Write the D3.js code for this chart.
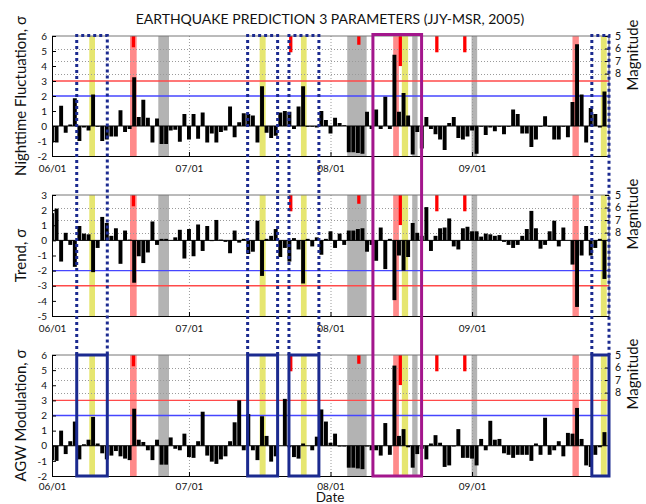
<!DOCTYPE html>
<html>
<head>
<meta charset="utf-8">
<script src="https://cdn.jsdelivr.net/npm/d3@7"></script>
<style>
  body { margin: 0; background: #fff; }
  svg { display: block; }
  text { font-family: Lato, "Open Sans", sans-serif; fill: #111; }
</style>
</head>
<body>
<svg id="chart" width="646" height="504"></svg>
<script>
// ---- data -------------------------------------------------------------
const periodStart = "2005-06-01";
const periodEnd = "2005-10-01";

// daily values, 2005-06-01 .. 2005-09-30 (σ units)
const nightFluct = [
  -1.1, -1.1, 1.35, -0.45, 0.1, 1.85, -1.0, -0.1, -0.3, 2.1,
  -0.05, -1.0, -0.9, -0.7, -0.7, 1.05, -0.4, -0.2, 3.25, 0.6,
  1.75, 0.55, -1.1, 0.5, -1.2, -1.2, -0.3, -0.25, -1.05, 0.8,
  -0.9, 0.8, -0.85, 0.9, -1.1, -0.5, -1.1, -0.4, -0.3, 1.3,
  -0.75, 0.25, 0.85, 0.8, 0.7, -1.1, 2.65, -0.45, -0.8, -0.65,
  0.9, 1.0, 0.95, -0.2, 1.3, 2.65, -0.05, -0.05, -0.1, 1.0,
  0.4, -0.5, 0.55, 0.2, 0.05, -1.75, -1.75, -1.8, -1.85, 0.95,
  -0.2, 1.1, -0.2, 1.95, -0.2, 4.75, 0.95, 2.2, 0.7, -1.9,
  -0.4, -1.5, 0.6, -0.2, -0.55, -0.9, -1.6, 0.2, 0.6, -0.8,
  -0.9, -0.7, -0.3, -1.85, -0.05, -0.6, -0.1, -0.35, -0.05, -0.55,
  -0.05, 1.1, 0.8, -0.5, -0.5, -1.4, -0.9, -0.05, 0.65, -0.05,
  -0.9, -0.9, -0.05, -0.75, 1.6, 5.45, 2.1, -1.1, 1.2, 0.8,
  -0.1, 2.3
];
const trend = [
  1.8, 2.1, -1.4, 0.5, -0.3, -1.75, 0.95, 0.45, 0.4, -2.1,
  -0.5, 1.55, 1.15, 0.3, 0.8, -1.55, 0.65, 0.05, -2.8, -1.05,
  -1.5, -0.8, 1.25, -0.3, 0.1, 0.1, 0.0, 0.2, 0.7, -1.2,
  0.75, -1.05, 1.05, -0.7, 0.95, -0.05, 1.35, 0.05, -0.1, -0.85,
  0.65, -0.15, 0.1, -0.9, -0.75, 1.3, -2.35, 0.1, 0.3, 0.75,
  -1.1, -0.5, -1.4, 0.15, -0.6, -2.85, 0.1, -0.4, 0.2, -0.95,
  0.1, 0.6, -0.5, 0.45, -0.3, 0.65, 0.65, 0.75, 0.8, -0.75,
  -0.3, -1.35, 0.85, -1.9, 0.1, -3.95, -1.0, -2.0, -1.1, 1.15,
  0.5, 0.3, 2.2, -0.7, 0.3, 0.8, 0.85, 1.45, -0.4, -0.6,
  0.8, 0.9, 0.6, 0.6, 0.25, 0.45, 0.4, 0.3, 0.35, -0.1,
  -0.3, -0.5, -0.3, 0.3, 0.75, 1.95, 0.8, -0.55, -0.3, 0.6,
  1.3, -0.4, 0.85, 0.0, -1.6, -4.4, -1.0, 0.95, -1.0, -0.5,
  0.1, -2.55
];
const agwMod = [
  -0.95, -1.0, 1.0, -0.55, 0.3, 1.6, -0.9, 0.1, 0.4, 1.9,
  0.15, -0.5, -0.9, -0.65, -0.35, -0.7, -0.85, -0.95, 2.45, 0.4,
  0.25, -0.3, -0.95, 0.4, -1.25, -1.25, 0.55, -0.2, -0.3, 0.8,
  -0.75, -0.8, 0.3, 2.25, -0.65, -1.05, -1.2, -0.9, -0.7, 0.3,
  1.55, 3.0, -0.3, 2.1, -0.3, -0.95, 1.95, 0.65, -1.05, -0.7,
  0.0, 3.1, -0.1, -0.75, -0.85, 0.15, 0.0, -0.3, 0.6, 2.4,
  1.6, 0.2, 0.8, -0.05, -0.05, -1.45, -1.45, -1.5, -1.55, -0.05,
  -0.3, -0.3, -0.65, 1.5, -0.6, 5.3, 0.65, 1.1, -0.1, -1.45,
  -0.55, -0.2, -0.9, 0.15, 0.7, 0.2, -1.4, -1.3, -0.05, 1.1,
  -0.8, -0.8, -0.85, -1.3, 0.45, -0.3, 1.65, 0.4, 0.45, -0.5,
  -0.6, -0.8, -0.6, -0.6, -0.6, -1.0, 0.15, -0.6, 1.85, -0.6,
  -0.3, 0.3, -0.7, 0.85, 0.8, 2.5, 0.45, -1.3, -1.4, -0.6,
  -0.1, 0.9
];

const xTickDates = ["2005-06-01", "2005-07-01", "2005-08-01", "2005-09-01"];
const xTickLabels = ["06/01", "07/01", "08/01", "09/01"];

const nightLevels = [2, 3];
const trendLevels = [-2, -3];
const agwLevels = [2, 3];

const nightTicks = [-2, -1, 0, 1, 2, 3, 4, 5, 6];
const trendTicks = [-5, -4, -3, -2, -1, 0, 1, 2, 3];
const agwTicks = [-2, -1, 0, 1, 2, 3, 4, 5, 6];
const magnitudeTicks = [5, 6, 7, 8];

// earthquakes: origin time and magnitude
const quakeTimes = ["2005-06-18T20:00", "2005-07-23T07:00", "2005-08-07T05:00",
                    "2005-08-16T07:00", "2005-08-24T07:00", "2005-08-30T10:00"];
const quakeMags = [5.9, 6.3, 5.7, 7.4, 6.3, 6.3];

// highlighted intervals [from, to]
const anomalySpans = [["2005-06-09T04:00", "2005-06-10T10:00"], ["2005-07-16T11:30", "2005-07-17T19:00"],
                      ["2005-07-25T12:30", "2005-07-26T18:30"], ["2005-08-16T15:00", "2005-08-18T00:00"],
                      ["2005-09-29T05:00", "2005-09-30T12:00"]];
const quakeSpans = [["2005-06-18T02:00", "2005-06-19T13:00"], ["2005-08-14T17:30", "2005-08-15T23:30"],
                    ["2005-09-23T00:00", "2005-09-24T09:30"]];
const gapSpans = [["2005-06-24T06:45", "2005-06-26T15:00"], ["2005-08-04T16:00", "2005-08-08T22:00"],
                  ["2005-08-18T21:30", "2005-08-20T01:40"], ["2005-08-31T21:30", "2005-09-02T03:00"]];
const alertWindows = [["2005-06-06T10:00", "2005-06-13T02:40"], ["2005-07-13T20:24", "2005-07-20T10:00"],
                      ["2005-07-22T21:36", "2005-07-29T11:00"], ["2005-09-27T05:45", "2005-10-01T00:00"]];
const hitWindow = ["2005-08-10T07:00", "2005-08-20T22:48"];

// ---- drawing ----------------------------------------------------------
const svg = d3.select("#chart");
const parseDay = d3.utcParse("%Y-%m-%d");
const parseTime = d3.utcParse("%Y-%m-%dT%H:%M");
const t0 = parseDay(periodStart), t1 = parseDay(periodEnd);
const days = d3.utcDay.range(t0, t1);
const DAY = 864e5;

const plotLeft = 52, plotRight = 609;
const x = d3.scaleUtc().domain([t0, t1]).range([plotLeft, plotRight]);
const dayW = x(new Date(+t0 + DAY)) - x(t0);

const colors = {
  bar: "#000", anomaly: "#e6e670", quake: "#ff8a8a", gap: "#b3b3b3",
  quakeMark: "#ff0000", red: "#ff4a4a", blue: "#4646ff",
  navy: "#1b2a8f", magenta: "#a3168c", grid: "#9a9a9a"
};

const panels = [
  { id: "p1", values: nightFluct, domain: [-2, 6], ticks: nightTicks, levels: nightLevels,
    top: 36, bottom: 156, label: "Nighttime Fluctuation, \u03c3", datePad: 9 },
  { id: "p2", values: trend, domain: [-5, 3], ticks: trendTicks, levels: trendLevels,
    top: 195, bottom: 316, label: "Trend, \u03c3", datePad: 9 },
  { id: "p3", values: agwMod, domain: [-2, 6], ticks: agwTicks, levels: agwLevels,
    top: 355, bottom: 476, label: "AGW Modulation, \u03c3", datePad: 7 }
];

const defs = svg.append("defs");

panels.forEach(p => {
  const y = d3.scaleLinear().domain(p.domain).range([p.bottom, p.top]);
  const mag = d3.scaleLinear().domain([5, 8]).range([p.top, p.top + 37.6]);

  defs.append("clipPath").attr("id", "clip-" + p.id)
    .append("rect").attr("x", plotLeft).attr("y", p.top)
    .attr("width", plotRight - plotLeft).attr("height", p.bottom - p.top);

  const g = svg.append("g");
  const inner = g.append("g").attr("clip-path", `url(#clip-${p.id})`);

  const spans = (list, color) => inner.append("g").selectAll("rect").data(list).join("rect")
    .attr("x", d => x(parseTime(d[0])))
    .attr("width", d => x(parseTime(d[1])) - x(parseTime(d[0])))
    .attr("y", p.top).attr("height", p.bottom - p.top)
    .attr("fill", color);
  spans(gapSpans, colors.gap);
  spans(quakeSpans, colors.quake);
  spans(anomalySpans, colors.anomaly);

  // dotted grid: months (vertical) and magnitudes (horizontal)
  inner.append("g").selectAll("line").data(xTickDates.slice(1)).join("line")
    .attr("x1", d => x(parseDay(d)) + 0.5).attr("x2", d => x(parseDay(d)) + 0.5)
    .attr("y1", p.top).attr("y2", p.bottom)
    .attr("stroke", colors.grid).attr("stroke-width", 1).attr("stroke-dasharray", "1,2");
  inner.append("g").selectAll("line").data(magnitudeTicks.slice(1)).join("line")
    .attr("x1", plotLeft).attr("x2", plotRight)
    .attr("y1", d => Math.round(mag(d)) + 0.5).attr("y2", d => Math.round(mag(d)) + 0.5)
    .attr("stroke", colors.grid).attr("stroke-width", 1).attr("stroke-dasharray", "1,2");

  // threshold levels
  inner.append("g").selectAll("line").data(p.levels).join("line")
    .attr("x1", plotLeft).attr("x2", plotRight)
    .attr("y1", d => y(d)).attr("y2", d => y(d))
    .attr("stroke", d => Math.abs(d) === 3 ? colors.red : colors.blue)
    .attr("stroke-width", 1.4);

  // daily bars
  const bw = dayW * 0.86;
  inner.append("g").selectAll("rect").data(p.values).join("rect")
    .attr("x", (d, i) => x(days[i]) - bw / 2)
    .attr("width", bw)
    .attr("y", d => y(Math.max(0, d)))
    .attr("height", d => Math.abs(y(d) - y(0)))
    .attr("fill", colors.bar);

  // zero baseline
  inner.append("line").attr("x1", plotLeft).attr("x2", plotRight)
    .attr("y1", y(0)).attr("y2", y(0)).attr("stroke", "#000").attr("stroke-width", 1);

  // earthquakes, hanging from magnitude 5
  const qw = dayW * 0.72;
  inner.append("g").selectAll("rect").data(quakeTimes).join("rect")
    .attr("x", d => x(parseTime(d)) - qw / 2)
    .attr("width", qw)
    .attr("y", mag(5))
    .attr("height", (d, i) => mag(quakeMags[i]) - mag(5))
    .attr("fill", colors.quakeMark);

  // frame
  g.append("line").attr("x1", plotLeft).attr("x2", plotRight).attr("y1", p.top).attr("y2", p.top)
    .attr("stroke", "#777").attr("stroke-width", 1);
  g.append("line").attr("x1", plotRight).attr("x2", plotRight).attr("y1", p.top).attr("y2", p.bottom)
    .attr("stroke", "#555").attr("stroke-width", 1);

  // left axis (ticks inside)
  const yAxis = d3.axisLeft(y).tickValues(p.ticks).tickFormat(d => String(d))
    .tickSizeInner(-4).tickSizeOuter(0).tickPadding(5);
  const ya = g.append("g").attr("transform", `translate(${plotLeft},0)`).call(yAxis);
  ya.selectAll("text").style("font-size", "10px").style("font-family", "Lato, sans-serif").attr("fill", "#111");
  ya.select(".domain").attr("stroke", "#000");

  // bottom axis (ticks inside)
  const xAxis = d3.axisBottom(x).tickValues(xTickDates.map(parseDay))
    .tickFormat((d, i) => xTickLabels[i]).tickSizeInner(-4).tickSizeOuter(0).tickPadding(p.datePad);
  const xa = g.append("g").attr("transform", `translate(0,${p.bottom})`).call(xAxis);
  xa.selectAll("text").style("font-size", "10px").style("font-family", "Lato, sans-serif").attr("fill", "#111");
  xa.select(".domain").attr("stroke", "#000");

  // right magnitude axis
  const mAxis = d3.axisRight(mag).tickValues(magnitudeTicks).tickFormat(d => String(d))
    .tickSizeInner(-4).tickSizeOuter(0).tickPadding(6);
  const ma = g.append("g").attr("transform", `translate(${plotRight},0)`).call(mAxis);
  ma.selectAll("text").style("font-size", "10.5px").style("font-family", "Lato, sans-serif").attr("fill", "#111");
  ma.select(".domain").remove();

  // axis titles
  const midY = (p.top + p.bottom) / 2;
  g.append("text").attr("transform", `translate(26,${midY}) rotate(-90)`)
    .attr("text-anchor", "middle").style("font-size", "15px").text(p.label);
  g.append("text").attr("transform", `translate(638,${p.top + 19}) rotate(-90)`)
    .attr("text-anchor", "middle").style("font-size", "15px").text("Magnitude");
});

// ---- windows spanning all panels --------------------------------------
const topY = panels[0].top - 0.5;
const lowTop = panels[2].top, lowBottom = panels[2].bottom;
const wx = d => Math.min(x(parseTime(d)), plotRight + 1);

const ov = svg.append("g");
alertWindows.forEach(w => {
  const xa = wx(w[0]), xb = wx(w[1]);
  // dotted outline from the first panel down to the last
  ov.append("path")
    .attr("d", `M${xa},${lowTop}V${topY}H${xb}V${lowTop}`)
    .attr("fill", "none").attr("stroke", colors.navy).attr("stroke-width", 3)
    .attr("stroke-dasharray", "3,3");
  // solid frame on the AGW panel
  ov.append("rect").attr("x", xa).attr("y", lowTop).attr("width", xb - xa)
    .attr("height", lowBottom - lowTop)
    .attr("fill", "none").attr("stroke", colors.navy).attr("stroke-width", 3);
});
{
  const xa = wx(hitWindow[0]), xb = wx(hitWindow[1]);
  ov.append("rect").attr("x", xa).attr("y", topY - 1).attr("width", xb - xa)
    .attr("height", lowBottom - topY + 1)
    .attr("fill", "none").attr("stroke", colors.magenta).attr("stroke-width", 3);
}

// ---- titles -----------------------------------------------------------
svg.append("text").attr("x", 330).attr("y", 24).attr("text-anchor", "middle")
  .style("font-size", "14px").text("EARTHQUAKE PREDICTION 3 PARAMETERS (JJY-MSR, 2005)");
svg.append("text").attr("x", 330).attr("y", 502).attr("text-anchor", "middle")
  .style("font-size", "13.5px").text("Date");
</script>
</body>
</html>
